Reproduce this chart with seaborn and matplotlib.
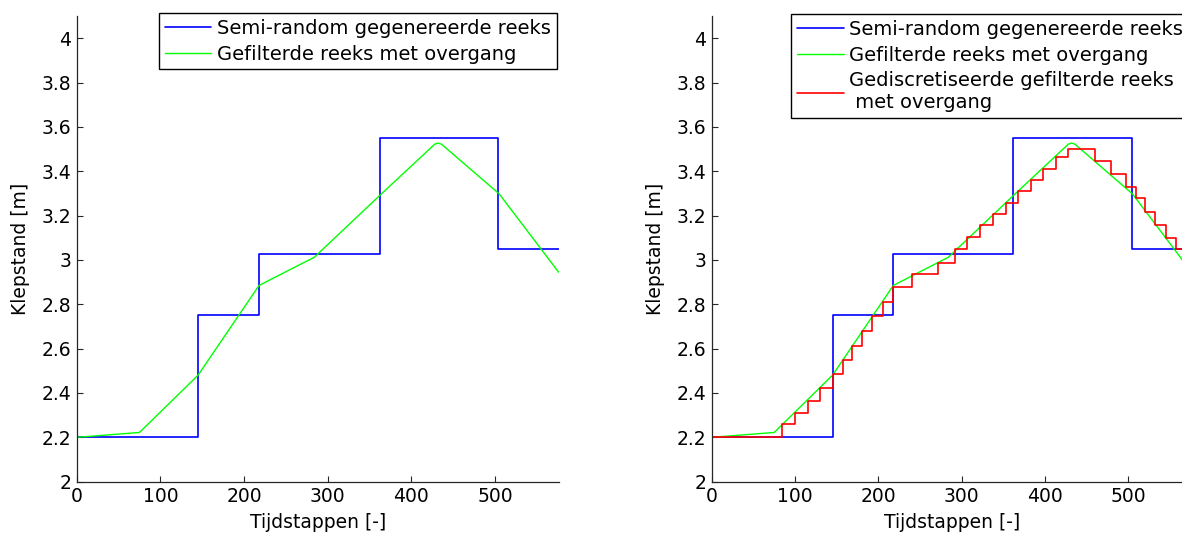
import matplotlib
matplotlib.use("Agg")
import matplotlib.pyplot as plt
import seaborn as sns
import pandas as pd

# ---- data ----
step_x = [0, 145, 218, 362, 504, 576]
step_y = [2.20, 2.75, 3.025, 3.55, 3.05, 3.05]

filt_x = [0, 75, 145, 218, 284, 362, 428, 432, 436, 505, 576]
filt_y = [2.200, 2.222, 2.480, 2.885, 3.012, 3.290, 3.522, 3.527, 3.522, 3.298, 2.945]

disc_x = [0, 84, 100, 115, 130, 145, 158, 169, 181, 193, 206, 218, 241, 272,
          292, 307, 322, 338, 353, 368, 383, 398, 413, 428, 460, 479, 497, 509,
          520, 532, 545, 557, 569, 576]
disc_y = [2.200, 2.260, 2.309, 2.366, 2.422, 2.486, 2.547, 2.614, 2.681, 2.746,
          2.811, 2.877, 2.935, 2.984, 3.048, 3.104, 3.156, 3.206, 3.259, 3.311,
          3.361, 3.412, 3.465, 3.500, 3.447, 3.387, 3.331, 3.278, 3.218, 3.156,
          3.100, 3.048, 2.993, 2.993]

x_ticks = [0, 100, 200, 300, 400, 500]
y_ticks = [2.0, 2.2, 2.4, 2.6, 2.8, 3.0, 3.2, 3.4, 3.6, 3.8, 4.0]
y_tick_labels = ["2", "2.2", "2.4", "2.6", "2.8", "3", "3.2", "3.4", "3.6", "3.8", "4"]

label_step = "Semi-random gegenereerde reeks"
label_filt = "Gefilterde reeks met overgang"
label_disc = "Gediscretiseerde gefilterde reeks\n met overgang"
x_label = "Tijdstappen [-]"
y_label = "Klepstand [m]"

# ---- style ----
sns.set_theme(style="ticks")
plt.rcParams["font.family"] = ["DejaVu Sans"]
FS = 13.5
FS_LEG = 14
SPINE = "#262626"

W, H = 1182, 535
fig = plt.figure(figsize=(W / 100, H / 100), dpi=100)
fig.patch.set_facecolor("white")


def axes_at(x0, x1, y0=16, y1=481.7):
    return fig.add_axes([x0 / W, 1 - y1 / H, (x1 - x0) / W, (y1 - y0) / H])


ax1 = axes_at(76.7, 559)
ax2 = axes_at(711.7, 1192)

df_step = pd.DataFrame({"x": step_x, "y": step_y})
df_filt = pd.DataFrame({"x": filt_x, "y": filt_y})
df_disc = pd.DataFrame({"x": disc_x, "y": disc_y})

for ax, with_disc in ((ax1, False), (ax2, True)):
    sns.lineplot(data=df_step, x="x", y="y", ax=ax, color=(0, 0, 1), lw=1.2,
                 drawstyle="steps-post", estimator=None, sort=False, label=label_step)
    sns.lineplot(data=df_filt, x="x", y="y", ax=ax, color=(0, 1, 0), lw=1.0,
                 estimator=None, sort=False, label=label_filt)
    if with_disc:
        sns.lineplot(data=df_disc, x="x", y="y", ax=ax, color=(1, 0, 0), lw=1.2,
                     drawstyle="steps-post", estimator=None, sort=False, label=label_disc)

    ax.set_xlim(0, 576.5)
    ax.set_ylim(2, 4.1)
    ax.set_xticks(x_ticks)
    ax.set_xticklabels([str(t) for t in x_ticks])
    ax.set_yticks(y_ticks)
    ax.set_yticklabels(y_tick_labels)
    ax.spines[["top", "right"]].set_visible(False)
    for s in ("left", "bottom"):
        ax.spines[s].set_color(SPINE)
        ax.spines[s].set_linewidth(0.9)
    ax.tick_params(direction="in", length=4, width=0.8, color=SPINE,
                   labelsize=FS, labelcolor="black", pad=4)
    ax.set_xlabel(x_label, fontsize=FS, color="black", labelpad=5)
    ax.set_ylabel(y_label, fontsize=FS, color="black", labelpad=8)
    ax.set_facecolor("white")

leg_kw = dict(borderaxespad=0, fancybox=False, edgecolor="black", framealpha=1,
              fontsize=FS_LEG, handlelength=2.4, handletextpad=0.3, labelspacing=0.35,
              borderpad=0.3, bbox_transform=fig.transFigure)
leg1 = ax1.legend(loc="upper right", bbox_to_anchor=(557 / W, 1 - 13 / H), **leg_kw)
leg2 = ax2.legend(loc="upper left", bbox_to_anchor=(791 / W, 1 - 14 / H), **leg_kw)
for lg in (leg1, leg2):
    lg.get_frame().set_linewidth(1.0)
    for t in lg.get_texts():
        t.set_color("black")

fig.savefig("out.png", dpi=100, facecolor="white")
